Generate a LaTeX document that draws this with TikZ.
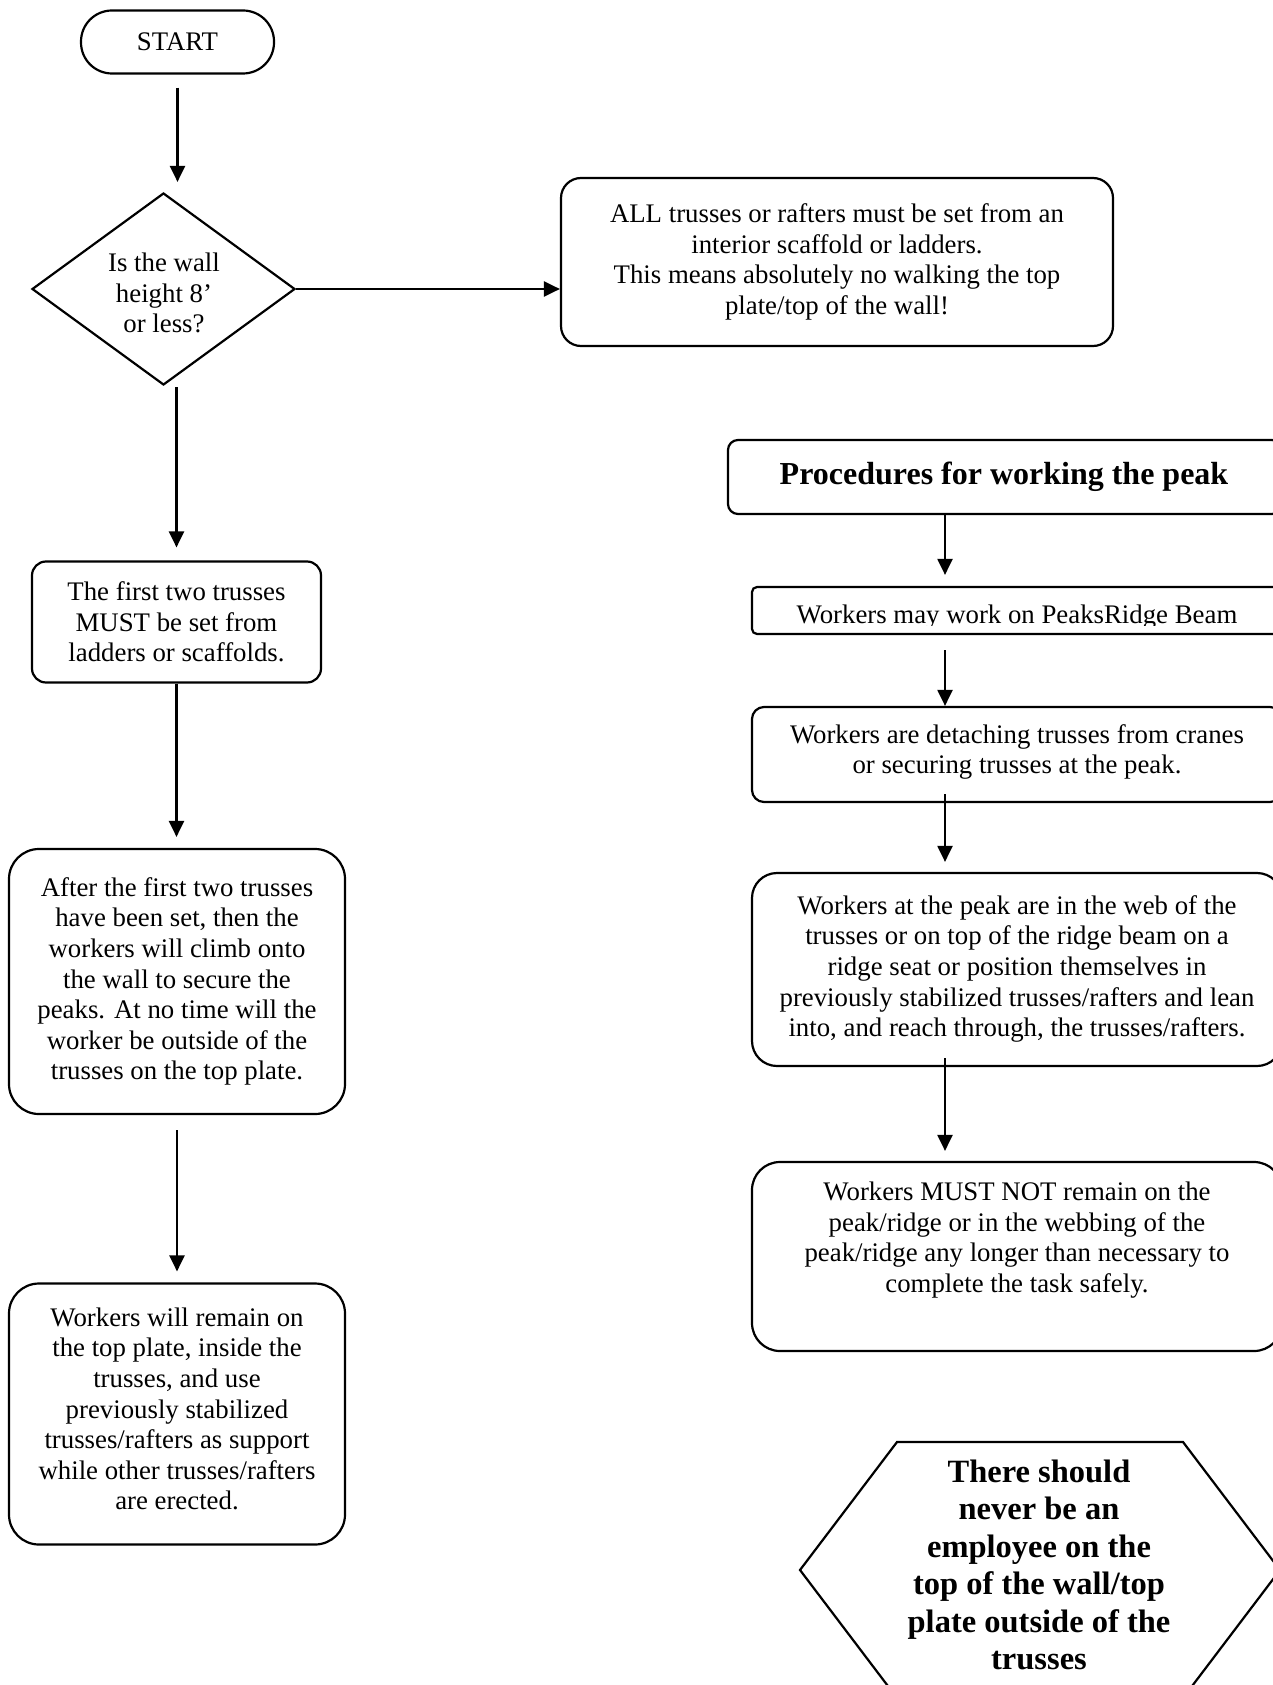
\documentclass[tikz,border=0pt]{standalone}
\usepackage{fontspec}
\setmainfont{Liberation Serif}
\usetikzlibrary{arrows.meta,shapes.geometric}
\begin{document}
\begin{tikzpicture}[x=1pt,y=-1pt,
  line width=2.2pt,
  box/.style={draw, rectangle, inner sep=0pt, align=center,
    font=\fontsize{26.8}{30.6}\selectfont},
  txt/.style={align=center, inner sep=0pt, font=\fontsize{26.8}{30.6}\selectfont},
  btxt/.style={align=center, inner sep=0pt, font=\fontsize{32.5}{37.5}\selectfont\bfseries},
  arr/.style={-{Triangle[length=16pt,width=15pt]}, line width=2.2pt},
]
\useasboundingbox[fill=white] (0,0) rectangle (1272,1685);

% ---------- left column ----------
\node[box, minimum width=193pt, minimum height=63pt, rounded corners=31pt]
  (start) at (177.5,42) {START};
\node[draw, diamond, inner sep=0pt, minimum width=263pt, minimum height=192pt]
  (dia) at (163.5,289) {};
\node[txt] (diat) at (164,293) {Is the wall\\height 8’\\or less?};

\node[box, minimum width=552pt, minimum height=168pt, rounded corners=20pt]
  (all) at (837,262) {ALL trusses or rafters must be set from an\\interior scaffold or ladders.\\This means absolutely no walking the top\\plate/top of the wall!};

\node[box, minimum width=289pt, minimum height=121pt, rounded corners=14pt]
  (b1) at (176.5,622) {The first two trusses\\MUST be set from\\ladders or scaffolds.};

\node[box, minimum width=336pt, minimum height=265pt, rounded corners=30pt]
  (b2) at (177,981.5) {After the first two trusses\\have been set, then the\\workers will climb onto\\the wall to secure the\\peaks. At no time will the\\worker be outside of the\\trusses on the top plate.};

\node[box, minimum width=336pt, minimum height=261pt, rounded corners=30pt]
  (b3) at (177,1414) {};
\node[txt] (b3t) at (177,1409) {Workers will remain on\\the top plate, inside the\\trusses, and use\\previously stabilized\\trusses/rafters as support\\while other trusses/rafters\\are erected.};

% ---------- right column ----------
\coordinate (rc) at (945,0);
\node[draw, rectangle, inner sep=0pt, minimum width=554pt, minimum height=74pt, rounded corners=10pt]
  (proc) at (1005,477) {};
\node[inner sep=0pt, font=\fontsize{32}{36}\selectfont\bfseries] (proct) at (1004,477) {Procedures for working the peak};

\node[draw, rectangle, inner sep=0pt, minimum width=530pt, minimum height=47pt, rounded corners=5pt]
  (may) at (1017,610.5) {};
\begin{scope}
  \clip (752,588) rectangle (1285,625.5);
  \node[txt, anchor=base] (mayt) at (1017,623) {Workers may work on PeaksRidge Beam};
\end{scope}

\node[draw, rectangle, inner sep=0pt, minimum width=530pt, minimum height=95pt, rounded corners=12pt]
  (det) at (1017,754.5) {};
\node[txt] (dett) at (1017,752) {Workers are detaching trusses from cranes\\or securing trusses at the peak.};

\node[draw, rectangle, inner sep=0pt, minimum width=530pt, minimum height=193pt, rounded corners=25pt]
  (peak) at (1017,969.5) {};
\node[txt] (peakt) at (1017,969) {Workers at the peak are in the web of the\\trusses or on top of the ridge beam on a\\ridge seat or position themselves in\\previously stabilized trusses/rafters and lean\\into, and reach through, the trusses/rafters.};

\node[draw, rectangle, inner sep=0pt, minimum width=530pt, minimum height=189pt, rounded corners=28pt]
  (must) at (1017,1256.5) {};
\node[txt] (mustt) at (1017,1240) {Workers MUST NOT remain on the\\peak/ridge or in the webbing of the\\peak/ridge any longer than necessary to\\complete the task safely.};

% hexagon
\coordinate (h1) at (800,1570);
\coordinate (h2) at (897,1442);
\coordinate (h3) at (1183,1442);
\coordinate (h4) at (1280,1570);
\coordinate (h5) at (1183,1698);
\coordinate (h6) at (897,1698);
\draw (h1) -- (h2) -- (h3) -- (h4) -- (h5) -- (h6) -- cycle;
\node[btxt] (hext) at (1039,1565) {There should\\never be an\\employee on the\\top of the wall/top\\plate outside of the\\trusses};

% ---------- connectors ----------
\draw[arr, shorten <=13pt, shorten >=10pt] (start.south) -- (start.south |- dia.north);
\draw[arr] (dia.east) -- (dia.east -| all.west);
\draw[arr, shorten <=1pt, shorten >=13pt] (b1.north |- dia.south) -- (b1.north);
\draw[arr, shorten >=11pt] (b1.south) -- (b1.south |- b2.north);
\draw[arr, shorten <=15pt, shorten >=11pt] (b2.south) -- (b2.south |- b3.north);

\draw[arr, shorten >=11pt] (proc.south -| rc) -- (may.north -| rc);
\draw[arr, shorten <=15pt] (may.south -| rc) -- (det.north -| rc);
\draw[arr, shorten <=-9pt, shorten >=10pt] (det.south -| rc) -- (peak.north -| rc);
\draw[arr, shorten <=-9pt, shorten >=10pt] (peak.south -| rc) -- (must.north -| rc);
\end{tikzpicture}
\end{document}
